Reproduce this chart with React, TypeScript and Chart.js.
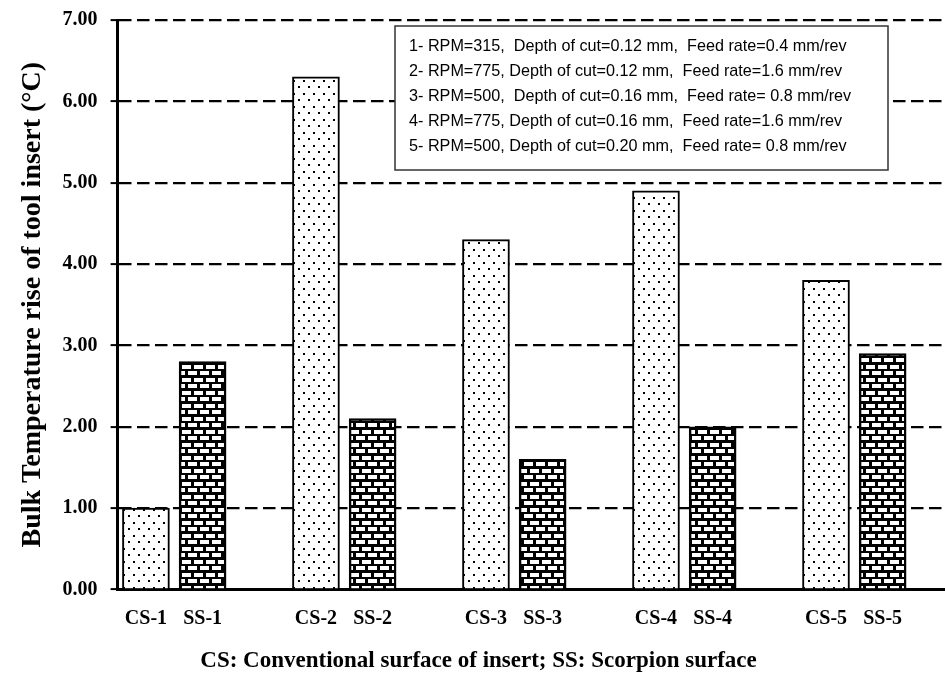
import React, { useEffect, useRef } from 'react';
import { Chart, registerables } from 'chart.js';

Chart.register(...registerables);

// ---- data ----
const csLabels = ['CS-1', 'CS-2', 'CS-3', 'CS-4', 'CS-5'];
const ssLabels = ['SS-1', 'SS-2', 'SS-3', 'SS-4', 'SS-5'];
const csValues = [1.0, 6.3, 4.3, 4.9, 3.8];
const ssValues = [2.8, 2.1, 1.6, 2.0, 2.9];
const yMin = 0;
const yMax = 7;
const yStep = 1;
const noteLines = [
  '1- RPM=315,  Depth of cut=0.12 mm,  Feed rate=0.4 mm/rev',
  '2- RPM=775, Depth of cut=0.12 mm,  Feed rate=1.6 mm/rev',
  '3- RPM=500,  Depth of cut=0.16 mm,  Feed rate= 0.8 mm/rev',
  '4- RPM=775, Depth of cut=0.16 mm,  Feed rate=1.6 mm/rev',
  '5- RPM=500, Depth of cut=0.20 mm,  Feed rate= 0.8 mm/rev',
];
const xTitle = 'CS: Conventional surface of insert; SS: Scorpion surface';
const yTitle = 'Bulk Temperature rise of tool insert (\u00B0C)';

const SERIF = "'Times New Roman', 'Liberation Serif', serif";
const SANS = "Arial, 'Liberation Sans', sans-serif";

function makeDots(): CanvasPattern | string {
  const c = document.createElement('canvas');
  c.width = 20;
  c.height = 13;
  const g = c.getContext('2d');
  if (!g) return '#fff';
  g.fillStyle = '#fff';
  g.fillRect(0, 0, 20, 13);
  g.fillStyle = '#000';
  const pts = [[3, 2], [13, 2], [8, 8], [18, 8]];
  pts.forEach(([x, y]) => g.fillRect(x, y, 2, 2));
  return g.createPattern(c, 'repeat') || '#fff';
}

function makeBricks(): CanvasPattern | string {
  const c = document.createElement('canvas');
  c.width = 24;
  c.height = 13;
  const g = c.getContext('2d');
  if (!g) return '#000';
  g.fillStyle = '#000';
  g.fillRect(0, 0, 24, 13);
  g.fillStyle = '#fff';
  g.fillRect(2, 1, 9, 4);
  g.fillRect(14, 1, 9, 4);
  g.fillRect(8, 7, 9, 4);
  g.fillRect(20, 7, 4, 4);
  g.fillRect(0, 7, 5, 4);
  return g.createPattern(c, 'repeat') || '#000';
}

export default function App() {
  const ref = useRef<HTMLCanvasElement | null>(null);

  useEffect(() => {
    const canvas = ref.current;
    if (!canvas) return;

    const tickPos: number[] = [];
    const tickLabel: Record<number, string> = {};
    csLabels.forEach((l, i) => {
      tickPos.push(i * 3);
      tickLabel[i * 3] = l;
      tickPos.push(i * 3 + 1);
      tickLabel[i * 3 + 1] = ssLabels[i];
    });

    const notesPlugin = {
      id: 'notesBox',
      afterDraw(chart: any) {
        const ctx = chart.ctx as CanvasRenderingContext2D;
        const x = 395, y = 26, w = 493, h = 144;
        ctx.save();
        ctx.fillStyle = '#fff';
        ctx.fillRect(x, y, w, h);
        ctx.strokeStyle = '#333';
        ctx.lineWidth = 1.5;
        ctx.strokeRect(x, y, w, h);
        ctx.fillStyle = '#000';
        ctx.font = `16.2px ${SANS}`;
        ctx.textBaseline = 'middle';
        noteLines.forEach((t, i) => {
          ctx.fillText(t, x + 14, y + 21 + i * 25);
        });
        ctx.restore();
      },
    };

    const chart = new Chart(canvas, {
      type: 'bar',
      data: {
        datasets: [
          {
            label: 'CS',
            data: csValues.map((v, i) => ({ x: i * 3, y: v })),
            backgroundColor: makeDots() as any,
            borderColor: '#000',
            borderWidth: 2,
            barThickness: 47,
            grouped: false,
          } as any,
          {
            label: 'SS',
            data: ssValues.map((v, i) => ({ x: i * 3 + 1, y: v })),
            backgroundColor: makeBricks() as any,
            borderColor: '#000',
            borderWidth: 2.5,
            barThickness: 47,
            grouped: false,
          } as any,
        ],
      },
      options: {
        animation: false,
        responsive: false,
        maintainAspectRatio: false,
        layout: { padding: { top: 20, right: 0, left: 12, bottom: 0 } },
        plugins: {
          legend: { display: false },
          tooltip: { enabled: false },
          title: {
            display: true,
            position: 'bottom',
            text: xTitle,
            color: '#000',
            font: { family: SERIF, size: 23, weight: 'bold' },
            padding: { top: 0, bottom: 0 },
          },
        },
        scales: {
          x: {
            type: 'linear',
            offset: false,
            min: -0.5,
            max: 14.1,
            afterBuildTicks: (s: any) => {
              s.ticks = tickPos.map((v) => ({ value: v }));
            },
            ticks: {
              callback: (v: any) => tickLabel[v as number] ?? '',
              color: '#000',
              font: { family: SERIF, size: 20, weight: 'bold' },
              autoSkip: false,
              maxRotation: 0,
              padding: 17,
            },
            grid: { display: false, drawTicks: false, tickLength: 0 },
            border: { display: true, color: '#000', width: 3 },
          },
          y: {
            min: yMin,
            max: yMax,
            afterFit: (s: any) => {
              s.paddingTop = 0;
            },
            ticks: {
              stepSize: yStep,
              callback: (v: any) => Number(v).toFixed(2),
              color: '#000',
              font: { family: SERIF, size: 20, weight: 'bold' },
              padding: 13,
            },
            grid: {
              color: '#000',
              lineWidth: 2.2,
              drawTicks: true,
              tickLength: 7,
              tickColor: '#000',
              tickWidth: 2,
              tickBorderDash: [],
            } as any,
            border: { display: true, color: '#000', width: 3, dash: [12.5, 5.5] },
            title: {
              display: true,
              text: yTitle,
              color: '#000',
              font: { family: SERIF, size: 28, weight: 'bold' },
              padding: { top: 4, bottom: 0 },
            },
          },
        },
      },
      plugins: [notesPlugin],
    });

    return () => chart.destroy();
  }, []);

  return (
    <div style={{ position: 'fixed', left: 0, top: 0, width: 945, height: 675, background: '#fff' }}>
      <canvas ref={ref} width={945} height={675} style={{ display: 'block', width: 945, height: 675 }} />
    </div>
  );
}
